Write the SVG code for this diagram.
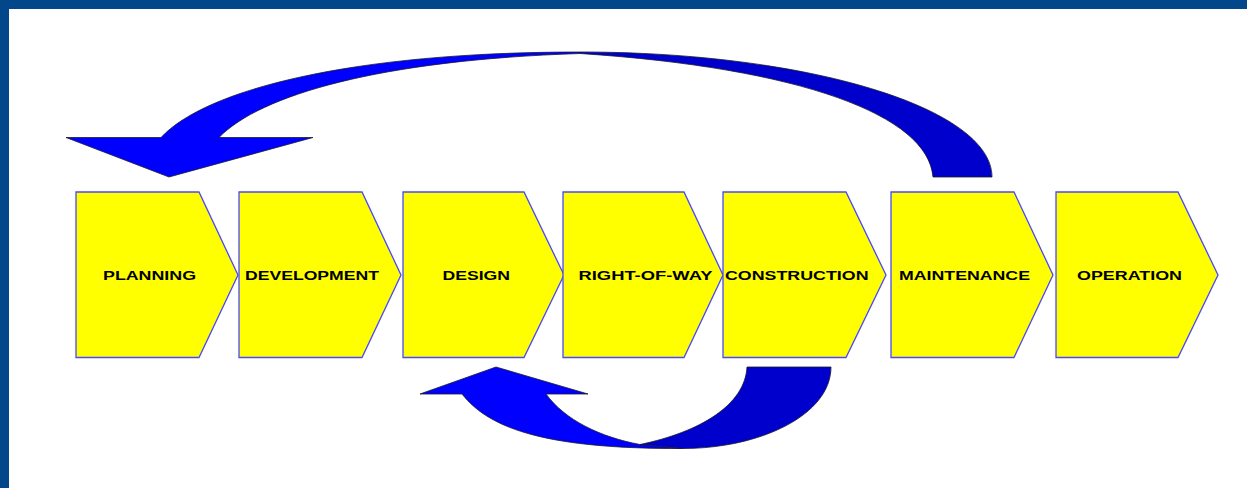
<svg xmlns="http://www.w3.org/2000/svg" width="1247" height="488" viewBox="0 0 1247 488">
<style>
.frame{fill:#02478a}
.chev{fill:#ffff00;stroke:#4848ff;stroke-width:1.3;stroke-linejoin:miter}
.lbl{font-family:"Liberation Sans",Arial,sans-serif;font-weight:bold;font-size:13px;fill:#000}
.light{fill:#0000ff;stroke:#1a1a2e;stroke-width:0.8;stroke-linejoin:round}
.dark{fill:#0000cc;stroke:#1a1a2e;stroke-width:0.8;stroke-linejoin:round}
</style>
<rect x="0" y="0" width="1247" height="488" fill="#ffffff"/>
<rect class="frame" x="0" y="0" width="1247" height="9"/>
<rect class="frame" x="0" y="0" width="9" height="488"/>

<g id="connectors">
  <g id="loop-top">
    <path class="light" d="M66,137.5 L161,137.5 C205,90 350,52 580,52 L580,53.5 C380,60 260,95 219,137.5 L313,137.5 L169,177 Z"/>
    <path class="dark" d="M580,52 C807.5,52 992,108 992,177 L933,177 C928,115 800,68 580,53.5 Z"/>
  </g>
  <g id="loop-bottom">
    <path class="light" d="M420,394 L462,394 C490,430 550,449 683,448.5 L640,444.5 C600,437 565,420 546,394 L588,394 L496,367 Z"/>
    <path class="dark" d="M747,367 C745,405 700,432 640,444.5 L683,448.5 C760,448.5 831,415 831,367 Z"/>
  </g>
</g>

<g id="planning">
  <path class="chev" d="M76,192 L199,192 L238,275 L199,357.5 L76,357.5 Z"/>
  <text class="lbl" x="103" y="280" textLength="93" lengthAdjust="spacingAndGlyphs">PLANNING</text>
</g>
<g id="development">
  <path class="chev" d="M239,192 L362,192 L401,275 L362,357.5 L239,357.5 Z"/>
  <text class="lbl" x="245" y="280" textLength="134" lengthAdjust="spacingAndGlyphs">DEVELOPMENT</text>
</g>
<g id="design">
  <path class="chev" d="M403,192 L524,192 L564,275 L524,357.5 L403,357.5 Z"/>
  <text class="lbl" x="442.5" y="280" textLength="67.5" lengthAdjust="spacingAndGlyphs">DESIGN</text>
</g>
<g id="right-of-way">
  <path class="chev" d="M563,192 L684,192 L723,275 L684,357.5 L563,357.5 Z"/>
  <text class="lbl" x="578.5" y="280" textLength="134" lengthAdjust="spacingAndGlyphs">RIGHT-OF-WAY</text>
</g>
<g id="construction">
  <path class="chev" d="M723,192 L846,192 L886,275 L846,357.5 L723,357.5 Z"/>
  <text class="lbl" x="725" y="280" textLength="143.5" lengthAdjust="spacingAndGlyphs">CONSTRUCTION</text>
</g>
<g id="maintenance">
  <path class="chev" d="M891,192 L1014,192 L1053,275 L1014,357.5 L891,357.5 Z"/>
  <text class="lbl" x="899" y="280" textLength="131" lengthAdjust="spacingAndGlyphs">MAINTENANCE</text>
</g>
<g id="operation">
  <path class="chev" d="M1056,192 L1178,192 L1218,275 L1178,357.5 L1056,357.5 Z"/>
  <text class="lbl" x="1077" y="280" textLength="105" lengthAdjust="spacingAndGlyphs">OPERATION</text>
</g>
</svg>
